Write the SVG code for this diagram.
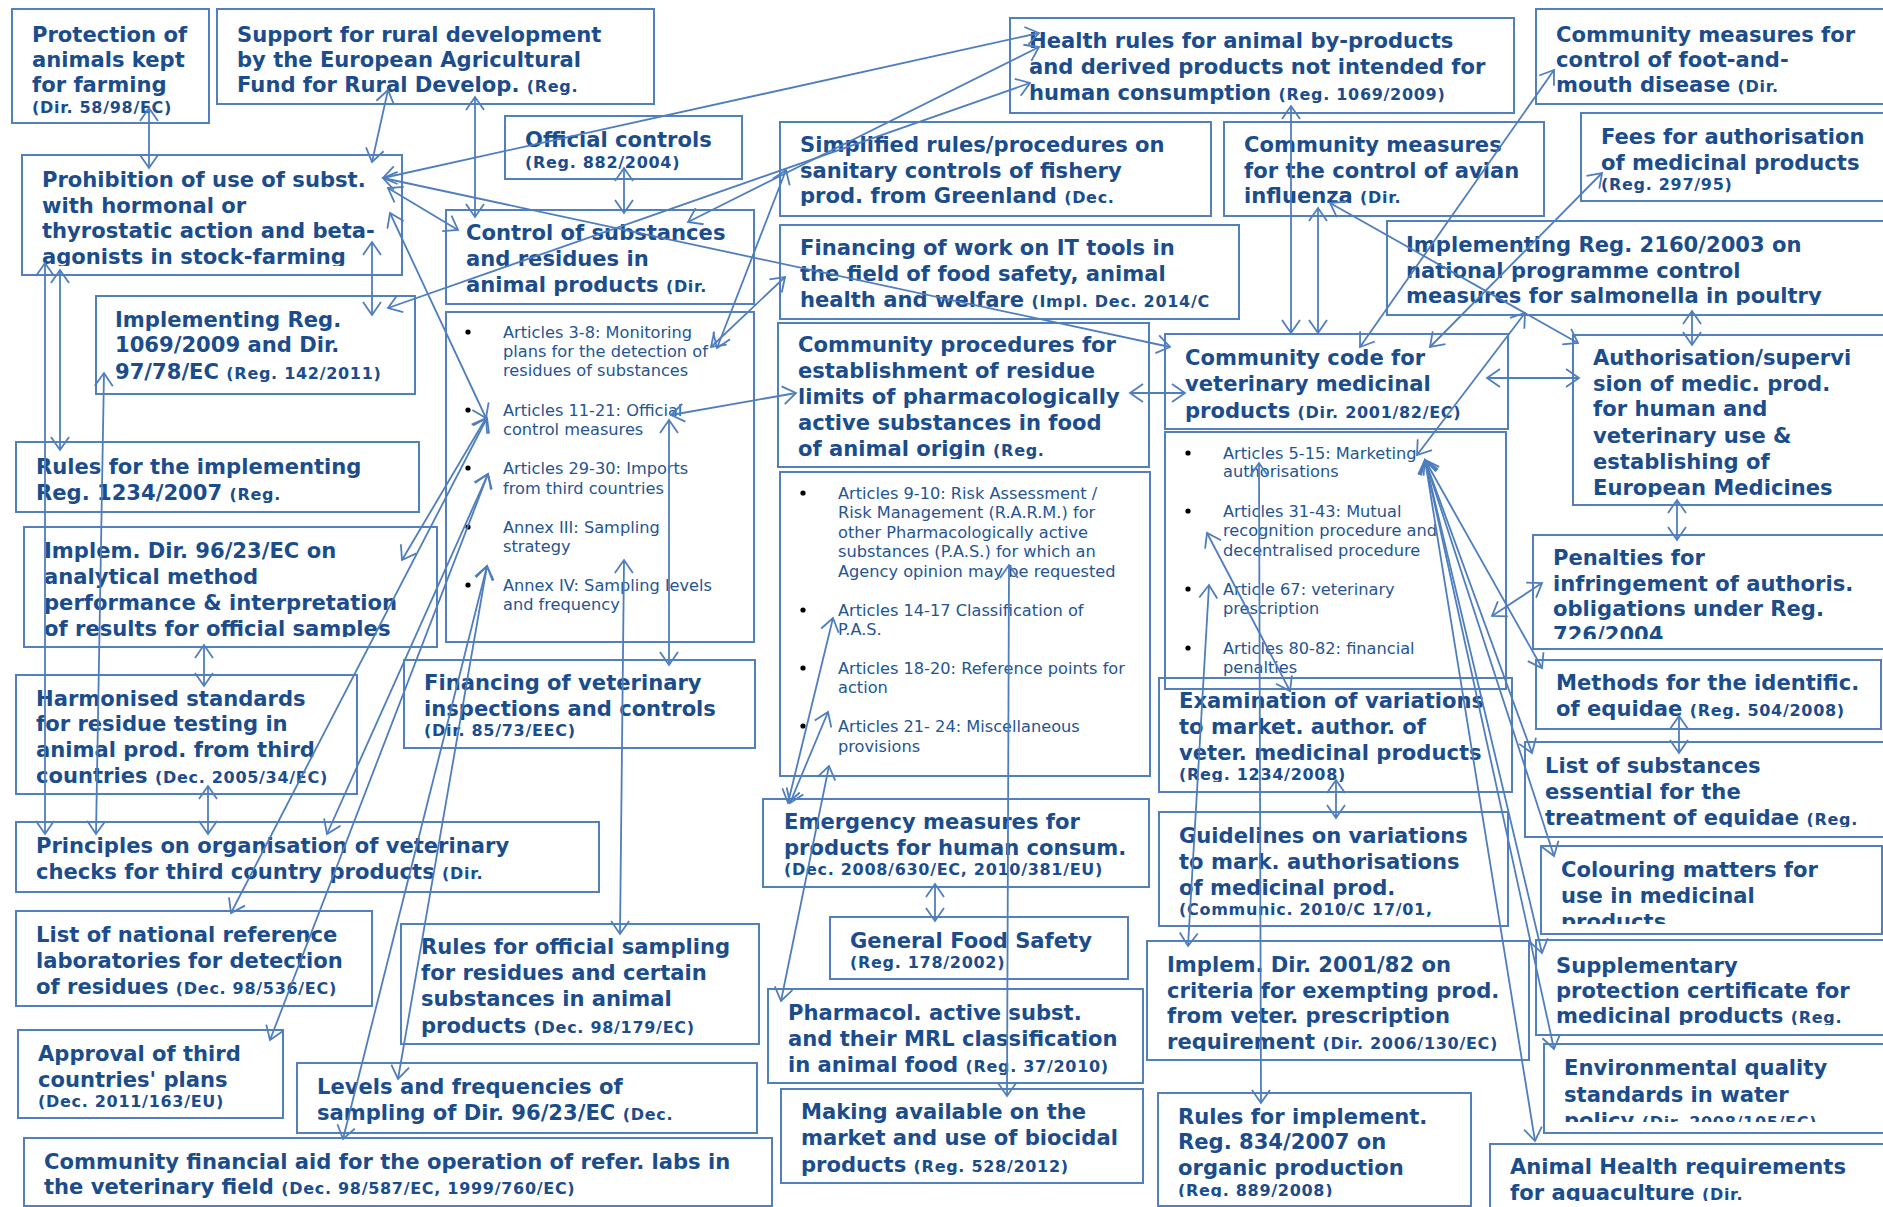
<svg xmlns="http://www.w3.org/2000/svg" width="1883" height="1207" viewBox="0 0 1883 1207">
<style>
.bx{fill:none;stroke:#5280bf;stroke-width:2}
.t{font-family:"DejaVu Sans",Verdana,sans-serif;font-weight:bold;font-size:21.1px;fill:#1b4d8d}
.s{font-size:16px;letter-spacing:0.7px}
.bl{font-family:"DejaVu Sans",Verdana,sans-serif;font-size:16.2px;fill:#245592}
.dot{fill:#000}
.c line{stroke:#4f7ebe;stroke-width:1.8;fill:none;marker-start:url(#a);marker-end:url(#a)}
</style>
<defs>
<marker id="a" viewBox="-16 -10 18 20" refX="0" refY="0" markerWidth="18" markerHeight="20" markerUnits="userSpaceOnUse" orient="auto-start-reverse">
<path d="M-13,-9 L0,0 L-13,9" fill="none" stroke="#4f7ebe" stroke-width="1.8"/>
</marker>
<clipPath id="k6"><rect x="22" y="155" width="380" height="111"/></clipPath>
<clipPath id="k4"><rect x="1010" y="18" width="504" height="86"/></clipPath>
<clipPath id="k8"><rect x="780" y="122" width="431" height="84"/></clipPath>
<clipPath id="k9"><rect x="1224" y="122" width="320" height="84"/></clipPath>
<clipPath id="k13"><rect x="1387" y="221" width="500" height="84"/></clipPath>
<clipPath id="k14"><rect x="778" y="323" width="371" height="136"/></clipPath>
<clipPath id="k16"><rect x="1573" y="335" width="320" height="162"/></clipPath>
<clipPath id="k18"><rect x="24" y="527" width="413" height="110"/></clipPath>
<clipPath id="k19"><rect x="1533" y="535" width="360" height="104"/></clipPath>
<clipPath id="k22"><rect x="1159" y="678" width="353" height="104"/></clipPath>
<clipPath id="k24"><rect x="1525" y="742" width="365" height="85"/></clipPath>
<clipPath id="k27"><rect x="1159" y="812" width="349" height="106"/></clipPath>
<clipPath id="k28"><rect x="1541" y="846" width="341" height="78"/></clipPath>
<clipPath id="k32"><rect x="1147" y="941" width="382" height="110"/></clipPath>
<clipPath id="k33"><rect x="1536" y="940" width="360" height="85"/></clipPath>
<clipPath id="k36"><rect x="1544" y="1044" width="350" height="78"/></clipPath>
<clipPath id="k39"><rect x="1158" y="1093" width="313" height="104"/></clipPath>
<clipPath id="k41"><rect x="1490" y="1144" width="400" height="57"/></clipPath>
</defs>
<rect width="1883" height="1207" fill="#fff"/>

<g id="n1"><rect class="bx" x="12" y="9" width="197" height="114"/><text class="t"><tspan x="32" y="42">Protection of</tspan><tspan x="32" y="67">animals kept</tspan><tspan x="32" y="92">for farming</tspan><tspan x="32" y="113" class="s">(Dir. 58/98/EC)</tspan></text></g>
<g id="n2"><rect class="bx" x="217" y="9" width="437" height="95"/><text class="t"><tspan x="237" y="42">Support for rural development</tspan><tspan x="237" y="67">by the European Agricultural</tspan><tspan x="237" y="92">Fund for Rural Develop. <tspan class="s">(Reg.</tspan></tspan></text></g>
<g id="n3"><rect class="bx" x="505" y="116" width="237" height="63"/><text class="t"><tspan x="525" y="147">Official controls</tspan><tspan x="525" y="168" class="s">(Reg. 882/2004)</tspan></text></g>
<g id="n4"><rect class="bx" x="1010" y="18" width="504" height="95"/><text class="t" clip-path="url(#k4)"><tspan x="1029" y="48">Health rules for animal by-products</tspan><tspan x="1029" y="74">and derived products not intended for</tspan><tspan x="1029" y="100">human consumption <tspan class="s">(Reg. 1069/2009)</tspan></tspan></text></g>
<g id="n5"><rect class="bx" x="1536" y="9" width="360" height="95"/><text class="t"><tspan x="1556" y="42">Community measures for</tspan><tspan x="1556" y="67">control of foot-and-</tspan><tspan x="1556" y="92">mouth disease <tspan class="s">(Dir.</tspan></tspan></text></g>
<g id="n6"><rect class="bx" x="22" y="155" width="380" height="120"/><text class="t" clip-path="url(#k6)"><tspan x="42" y="187">Prohibition of use of subst.</tspan><tspan x="42" y="213">with hormonal or</tspan><tspan x="42" y="238">thyrostatic action and beta-</tspan><tspan x="42" y="264">agonists in stock-farming</tspan></text></g>
<g id="n7"><rect class="bx" x="446" y="210" width="308" height="94"/><text class="t"><tspan x="466" y="240">Control of substances</tspan><tspan x="466" y="266">and residues in</tspan><tspan x="466" y="292">animal products <tspan class="s">(Dir.</tspan></tspan></text></g>
<g id="n7b"><rect class="bx" x="446" y="312" width="308" height="330"/>
<circle class="dot" cx="468" cy="332" r="2.6"/><circle class="dot" cx="468" cy="410" r="2.6"/><circle class="dot" cx="468" cy="468" r="2.6"/><circle class="dot" cx="468" cy="527" r="2.6"/><circle class="dot" cx="468" cy="585" r="2.6"/>
<text class="bl"><tspan x="503" y="338">Articles 3-8: Monitoring</tspan><tspan x="503" y="357">plans for the detection of</tspan><tspan x="503" y="376">residues of substances</tspan><tspan x="503" y="416">Articles 11-21: Official</tspan><tspan x="503" y="435">control measures</tspan><tspan x="503" y="474">Articles 29-30: Imports</tspan><tspan x="503" y="494">from third countries</tspan><tspan x="503" y="533">Annex III: Sampling</tspan><tspan x="503" y="552">strategy</tspan><tspan x="503" y="591">Annex IV: Sampling levels</tspan><tspan x="503" y="610">and frequency</tspan></text></g>
<g id="n8"><rect class="bx" x="780" y="122" width="431" height="94"/><text class="t" clip-path="url(#k8)"><tspan x="800" y="152">Simplified rules/procedures on</tspan><tspan x="800" y="178">sanitary controls of fishery</tspan><tspan x="800" y="203">prod. from Greenland <tspan class="s">(Dec.</tspan></tspan></text></g>
<g id="n9"><rect class="bx" x="1224" y="122" width="320" height="94"/><text class="t" clip-path="url(#k9)"><tspan x="1244" y="152">Community measures</tspan><tspan x="1244" y="178">for the control of avian</tspan><tspan x="1244" y="203">influenza <tspan class="s">(Dir.</tspan></tspan></text></g>
<g id="n10"><rect class="bx" x="1581" y="113" width="310" height="88"/><text class="t"><tspan x="1601" y="144">Fees for authorisation</tspan><tspan x="1601" y="170">of medicinal products</tspan><tspan x="1601" y="190" class="s">(Reg. 297/95)</tspan></text></g>
<g id="n11"><rect class="bx" x="96" y="296" width="319" height="98"/><text class="t"><tspan x="115" y="327">Implementing Reg.</tspan><tspan x="115" y="352">1069/2009 and Dir.</tspan><tspan x="115" y="379">97/78/EC <tspan class="s">(Reg. 142/2011)</tspan></tspan></text></g>
<g id="n12"><rect class="bx" x="780" y="225" width="459" height="94"/><text class="t"><tspan x="800" y="255">Financing of work on IT tools in</tspan><tspan x="800" y="281">the field of food safety, animal</tspan><tspan x="800" y="307">health and welfare <tspan class="s">(Impl. Dec. 2014/C</tspan></tspan></text></g>
<g id="n13"><rect class="bx" x="1387" y="221" width="500" height="94"/><text class="t" clip-path="url(#k13)"><tspan x="1406" y="252">Implementing Reg. 2160/2003 on</tspan><tspan x="1406" y="278">national programme control</tspan><tspan x="1406" y="303">measures for salmonella in poultry</tspan></text></g>
<g id="n14"><rect class="bx" x="778" y="323" width="371" height="144"/><text class="t" clip-path="url(#k14)"><tspan x="798" y="352">Community procedures for</tspan><tspan x="798" y="378">establishment of residue</tspan><tspan x="798" y="404">limits of pharmacologically</tspan><tspan x="798" y="430">active substances in food</tspan><tspan x="798" y="456">of animal origin <tspan class="s">(Reg.</tspan></tspan></text></g>
<g id="n14b"><rect class="bx" x="780" y="472" width="370" height="304"/>
<circle class="dot" cx="803" cy="493" r="2.6"/><circle class="dot" cx="803" cy="610" r="2.6"/><circle class="dot" cx="803" cy="668" r="2.6"/><circle class="dot" cx="803" cy="726" r="2.6"/>
<text class="bl"><tspan x="838" y="499">Articles 9-10: Risk Assessment /</tspan><tspan x="838" y="518">Risk Management (R.A.R.M.) for</tspan><tspan x="838" y="538">other Pharmacologically active</tspan><tspan x="838" y="557">substances (P.A.S.) for which an</tspan><tspan x="838" y="577">Agency opinion may be requested</tspan><tspan x="838" y="616">Articles 14-17 Classification of</tspan><tspan x="838" y="635">P.A.S.</tspan><tspan x="838" y="674">Articles 18-20: Reference points for</tspan><tspan x="838" y="693">action</tspan><tspan x="838" y="732">Articles 21- 24: Miscellaneous</tspan><tspan x="838" y="752">provisions</tspan></text></g>
<g id="n15"><rect class="bx" x="1165" y="334" width="343" height="95"/><text class="t"><tspan x="1185" y="365">Community code for</tspan><tspan x="1185" y="391">veterinary medicinal</tspan><tspan x="1185" y="418">products <tspan class="s">(Dir. 2001/82/EC)</tspan></tspan></text></g>
<g id="n15b"><rect class="bx" x="1165" y="432" width="341" height="257"/>
<circle class="dot" cx="1188" cy="453" r="2.6"/><circle class="dot" cx="1188" cy="511" r="2.6"/><circle class="dot" cx="1188" cy="589" r="2.6"/><circle class="dot" cx="1188" cy="648" r="2.6"/>
<text class="bl"><tspan x="1223" y="459">Articles 5-15: Marketing</tspan><tspan x="1223" y="477">authorisations</tspan><tspan x="1223" y="517">Articles 31-43: Mutual</tspan><tspan x="1223" y="536">recognition procedure and</tspan><tspan x="1223" y="556">decentralised procedure</tspan><tspan x="1223" y="595">Article 67: veterinary</tspan><tspan x="1223" y="614">prescription</tspan><tspan x="1223" y="654">Articles 80-82: financial</tspan><tspan x="1223" y="673">penalties</tspan></text></g>
<g id="n16"><rect class="bx" x="1573" y="335" width="320" height="170"/><text class="t" clip-path="url(#k16)"><tspan x="1593" y="365">Authorisation/supervi</tspan><tspan x="1593" y="391">sion of medic. prod.</tspan><tspan x="1593" y="416">for human and</tspan><tspan x="1593" y="443">veterinary use &amp;</tspan><tspan x="1593" y="469">establishing of</tspan><tspan x="1593" y="495">European Medicines</tspan></text></g>
<g id="n17"><rect class="bx" x="16" y="442" width="403" height="70"/><text class="t"><tspan x="36" y="474">Rules for the implementing</tspan><tspan x="36" y="500">Reg. 1234/2007 <tspan class="s">(Reg.</tspan></tspan></text></g>
<g id="n18"><rect class="bx" x="24" y="527" width="413" height="120"/><text class="t" clip-path="url(#k18)"><tspan x="44" y="558">Implem. Dir. 96/23/EC on</tspan><tspan x="44" y="584">analytical method</tspan><tspan x="44" y="610">performance &amp; interpretation</tspan><tspan x="44" y="636">of results for official samples</tspan></text></g>
<g id="n19"><rect class="bx" x="1533" y="535" width="360" height="114"/><text class="t" clip-path="url(#k19)"><tspan x="1553" y="565">Penalties for</tspan><tspan x="1553" y="591">infringement of authoris.</tspan><tspan x="1553" y="616">obligations under Reg.</tspan><tspan x="1553" y="642">726/2004</tspan></text></g>
<g id="n20"><rect class="bx" x="16" y="675" width="341" height="119"/><text class="t"><tspan x="36" y="706">Harmonised standards</tspan><tspan x="36" y="731">for residue testing in</tspan><tspan x="36" y="757">animal prod. from third</tspan><tspan x="36" y="783">countries <tspan class="s">(Dec. 2005/34/EC)</tspan></tspan></text></g>
<g id="n21"><rect class="bx" x="404" y="660" width="351" height="88"/><text class="t"><tspan x="424" y="690">Financing of veterinary</tspan><tspan x="424" y="716">inspections and controls</tspan><tspan x="424" y="736" class="s">(Dir. 85/73/EEC)</tspan></text></g>
<g id="n22"><rect class="bx" x="1159" y="678" width="353" height="114"/><text class="t" clip-path="url(#k22)"><tspan x="1179" y="708">Examination of variations</tspan><tspan x="1179" y="734">to market. author. of</tspan><tspan x="1179" y="760">veter. medicinal products</tspan><tspan x="1179" y="780" class="s">(Reg. 1234/2008)</tspan></text></g>
<g id="n23"><rect class="bx" x="1536" y="660" width="345" height="69"/><text class="t"><tspan x="1556" y="690">Methods for the identific.</tspan><tspan x="1556" y="716">of equidae <tspan class="s">(Reg. 504/2008)</tspan></tspan></text></g>
<g id="n24"><rect class="bx" x="1525" y="742" width="365" height="95"/><text class="t" clip-path="url(#k24)"><tspan x="1545" y="773">List of substances</tspan><tspan x="1545" y="799">essential for the</tspan><tspan x="1545" y="825">treatment of equidae <tspan class="s">(Reg.</tspan></tspan></text></g>
<g id="n25"><rect class="bx" x="16" y="822" width="583" height="70"/><text class="t"><tspan x="36" y="853">Principles on organisation of veterinary</tspan><tspan x="36" y="879">checks for third country products <tspan class="s">(Dir.</tspan></tspan></text></g>
<g id="n26"><rect class="bx" x="763" y="799" width="386" height="88"/><text class="t"><tspan x="784" y="829">Emergency measures for</tspan><tspan x="784" y="855">products for human consum.</tspan><tspan x="784" y="875" class="s">(Dec. 2008/630/EC, 2010/381/EU)</tspan></text></g>
<g id="n27"><rect class="bx" x="1159" y="812" width="349" height="114"/><text class="t" clip-path="url(#k27)"><tspan x="1179" y="843">Guidelines on variations</tspan><tspan x="1179" y="869">to mark. authorisations</tspan><tspan x="1179" y="895">of medicinal prod.</tspan><tspan x="1179" y="915" class="s">(Communic. 2010/C 17/01,</tspan></text></g>
<g id="n28"><rect class="bx" x="1541" y="846" width="341" height="88"/><text class="t" clip-path="url(#k28)"><tspan x="1561" y="877">Colouring matters for</tspan><tspan x="1561" y="903">use in medicinal</tspan><tspan x="1561" y="929">products</tspan></text></g>
<g id="n29"><rect class="bx" x="16" y="911" width="356" height="95"/><text class="t"><tspan x="36" y="942">List of national reference</tspan><tspan x="36" y="968">laboratories for detection</tspan><tspan x="36" y="994">of residues <tspan class="s">(Dec. 98/536/EC)</tspan></tspan></text></g>
<g id="n30"><rect class="bx" x="401" y="924" width="358" height="120"/><text class="t"><tspan x="421" y="954">Rules for official sampling</tspan><tspan x="421" y="980">for residues and certain</tspan><tspan x="421" y="1006">substances in animal</tspan><tspan x="421" y="1033">products  <tspan class="s">(Dec. 98/179/EC)</tspan></tspan></text></g>
<g id="n31"><rect class="bx" x="830" y="917" width="298" height="62"/><text class="t"><tspan x="850" y="948">General Food Safety</tspan><tspan x="850" y="968" class="s">(Reg. 178/2002)</tspan></text></g>
<g id="n32"><rect class="bx" x="1147" y="941" width="382" height="119"/><text class="t" clip-path="url(#k32)"><tspan x="1167" y="972">Implem. Dir. 2001/82 on</tspan><tspan x="1167" y="998">criteria for exempting prod.</tspan><tspan x="1167" y="1023">from veter. prescription</tspan><tspan x="1167" y="1049">requirement <tspan class="s">(Dir. 2006/130/EC)</tspan></tspan></text></g>
<g id="n33"><rect class="bx" x="1536" y="940" width="360" height="95"/><text class="t" clip-path="url(#k33)"><tspan x="1556" y="973">Supplementary</tspan><tspan x="1556" y="998">protection certificate for</tspan><tspan x="1556" y="1023">medicinal products <tspan class="s">(Reg.</tspan></tspan></text></g>
<g id="n34"><rect class="bx" x="18" y="1030" width="265" height="88"/><text class="t"><tspan x="38" y="1061">Approval of third</tspan><tspan x="38" y="1087">countries' plans</tspan><tspan x="38" y="1107" class="s">(Dec. 2011/163/EU)</tspan></text></g>
<g id="n35"><rect class="bx" x="768" y="989" width="375" height="94"/><text class="t"><tspan x="788" y="1020">Pharmacol. active subst.</tspan><tspan x="788" y="1046">and their MRL classification</tspan><tspan x="788" y="1072">in animal food <tspan class="s">(Reg. 37/2010)</tspan></tspan></text></g>
<g id="n36"><rect class="bx" x="1544" y="1044" width="350" height="89"/><text class="t" clip-path="url(#k36)"><tspan x="1564" y="1075">Environmental quality</tspan><tspan x="1564" y="1102">standards in water</tspan><tspan x="1564" y="1128">policy <tspan class="s">(Dir. 2008/105/EC)</tspan></tspan></text></g>
<g id="n37"><rect class="bx" x="297" y="1063" width="460" height="70"/><text class="t"><tspan x="317" y="1094">Levels and frequencies of</tspan><tspan x="317" y="1120">sampling of Dir. 96/23/EC <tspan class="s">(Dec.</tspan></tspan></text></g>
<g id="n38"><rect class="bx" x="781" y="1089" width="362" height="94"/><text class="t"><tspan x="801" y="1119">Making available on the</tspan><tspan x="801" y="1145">market and use of biocidal</tspan><tspan x="801" y="1172">products <tspan class="s">(Reg. 528/2012)</tspan></tspan></text></g>
<g id="n39"><rect class="bx" x="1158" y="1093" width="313" height="113"/><text class="t" clip-path="url(#k39)"><tspan x="1178" y="1124">Rules for implement.</tspan><tspan x="1178" y="1149">Reg. 834/2007 on</tspan><tspan x="1178" y="1175">organic production</tspan><tspan x="1178" y="1196" class="s">(Reg. 889/2008)</tspan></text></g>
<g id="n40"><rect class="bx" x="24" y="1138" width="748" height="68"/><text class="t"><tspan x="44" y="1169">Community financial aid for the operation of refer. labs in</tspan><tspan x="44" y="1194">the veterinary field <tspan class="s">(Dec. 98/587/EC, 1999/760/EC)</tspan></tspan></text></g>
<g id="n41"><rect class="bx" x="1490" y="1144" width="400" height="70"/><text class="t" clip-path="url(#k41)"><tspan x="1510" y="1174">Animal Health requirements</tspan><tspan x="1510" y="1200">for aquaculture <tspan class="s">(Dir.</tspan></tspan></text></g>

<g id="connectors" class="c">
<line x1="149" y1="108" x2="149" y2="168"/>
<line x1="388" y1="90" x2="372" y2="162"/>
<line x1="475" y1="97" x2="475" y2="217"/>
<line x1="624" y1="168" x2="624" y2="213"/>
<line x1="383" y1="178" x2="1039" y2="33"/>
<line x1="688" y1="222" x2="1039" y2="47"/>
<line x1="388" y1="308" x2="1030" y2="83"/>
<line x1="717" y1="348" x2="786" y2="170"/>
<line x1="711" y1="347" x2="785" y2="277"/>
<line x1="383" y1="178" x2="1170" y2="347"/>
<line x1="388" y1="188" x2="458" y2="230"/>
<line x1="390" y1="213" x2="486" y2="418"/>
<line x1="372" y1="242" x2="372" y2="315"/>
<line x1="45" y1="263" x2="45" y2="834"/>
<line x1="60" y1="270" x2="60" y2="450"/>
<line x1="104" y1="373" x2="96" y2="834"/>
<line x1="204" y1="645" x2="204" y2="686"/>
<line x1="208" y1="786" x2="208" y2="834"/>
<line x1="486" y1="418" x2="402" y2="560"/>
<line x1="487" y1="418" x2="231" y2="913"/>
<line x1="488" y1="474" x2="327" y2="834"/>
<line x1="488" y1="474" x2="270" y2="1040"/>
<line x1="487" y1="566" x2="398" y2="1079"/>
<line x1="487" y1="566" x2="343" y2="1139"/>
<line x1="624" y1="560" x2="620" y2="934"/>
<line x1="669" y1="420" x2="669" y2="665"/>
<line x1="671" y1="415" x2="796" y2="393"/>
<line x1="1130" y1="393" x2="1185" y2="393"/>
<line x1="1291" y1="106" x2="1291" y2="333"/>
<line x1="1318" y1="208" x2="1318" y2="333"/>
<line x1="1330" y1="203" x2="1578" y2="343"/>
<line x1="1554" y1="70" x2="1360" y2="347"/>
<line x1="1602" y1="173" x2="1430" y2="347"/>
<line x1="1525" y1="313" x2="1417" y2="455"/>
<line x1="1692" y1="311" x2="1692" y2="345"/>
<line x1="1487" y1="378" x2="1579" y2="378"/>
<line x1="1677" y1="500" x2="1677" y2="540"/>
<line x1="1492" y1="616" x2="1542" y2="583"/>
<line x1="1679" y1="716" x2="1679" y2="753"/>
<line x1="1425" y1="460" x2="1542" y2="668"/>
<line x1="1425" y1="460" x2="1532" y2="753"/>
<line x1="1425" y1="460" x2="1554" y2="856"/>
<line x1="1425" y1="460" x2="1542" y2="953"/>
<line x1="1425" y1="460" x2="1554" y2="1049"/>
<line x1="1425" y1="460" x2="1535" y2="1141"/>
<line x1="1207" y1="533" x2="1290" y2="691"/>
<line x1="1259" y1="463" x2="1261" y2="1103"/>
<line x1="1209" y1="585" x2="1188" y2="946"/>
<line x1="1336" y1="780" x2="1336" y2="818"/>
<line x1="1009" y1="565" x2="1007" y2="1096"/>
<line x1="833" y1="618" x2="788" y2="803"/>
<line x1="828" y1="712" x2="790" y2="803"/>
<line x1="829" y1="766" x2="781" y2="1001"/>
<line x1="935" y1="884" x2="935" y2="921"/>
</g>
</svg>
